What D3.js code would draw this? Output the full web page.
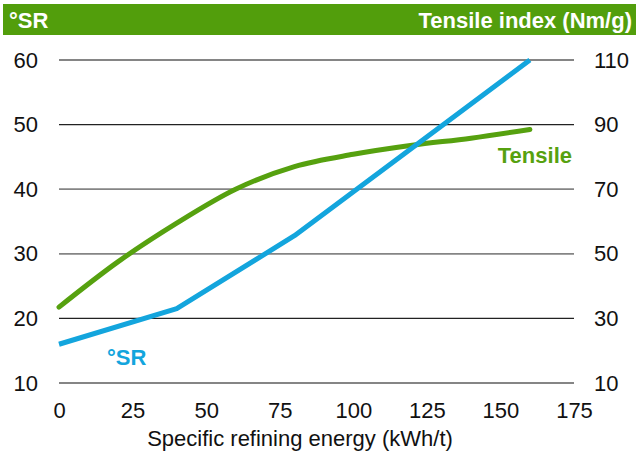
<!DOCTYPE html>
<html><head><meta charset="utf-8">
<script src="https://cdn.jsdelivr.net/npm/d3@7"></script>
<style>body{margin:0;background:#fff;font-family:"Liberation Sans",Arial,sans-serif}</style>
</head><body><svg id="c" width="638" height="452"></svg>
<script>
const energy = [0, 40, 80, 160];
const srValues = [16, 21.5, 32.8, 60];
const tensileEnergy = [0, 20, 40, 60, 80, 100, 120, 140, 160];
const tensileValues = [33.5, 47.5, 59.5, 70, 77, 80.8, 83.6, 85.8, 88.5];
const xTicks = [0, 25, 50, 75, 100, 125, 150, 175];
const leftTicks = [10, 20, 30, 40, 50, 60];
const rightTicks = [10, 30, 50, 70, 90, 110];

const svg = d3.select("#c");
const green = "#56a10f", blue = "#13a5dd";
const FONT = "Liberation Sans, Arial, sans-serif";
const x = d3.scaleLinear().domain([0, 175]).range([59, 574]);
const yL = d3.scaleLinear().domain([10, 60]).range([383, 60]);
const yR = d3.scaleLinear().domain([10, 110]).range([383, 60]);

// header
svg.append("rect").attr("x", 3).attr("y", 4).attr("width", 633).attr("height", 31).attr("fill", "#529e0c");
svg.append("text").attr("x", 9).attr("y", 28).attr("fill", "#fff").attr("font-weight", "bold").attr("font-size", 22).text("°SR");
svg.append("text").attr("x", 632).attr("y", 28).attr("text-anchor", "end").attr("fill", "#fff").attr("font-weight", "bold").attr("font-size", 22).text("Tensile index (Nm/g)");

// grid
const darkLines = [50, 20];
svg.append("g").selectAll("line").data(leftTicks).join("line")
  .attr("x1", x(0)).attr("x2", x(175)).attr("y1", d => yL(d)).attr("y2", d => yL(d))
  .attr("stroke", d => darkLines.includes(d) ? "#222" : "#858585")
  .attr("stroke-width", d => darkLines.includes(d) ? 1.2 : 1.8);

// left axis
const gl = svg.append("g").attr("transform", `translate(${x(0)},0)`)
  .call(d3.axisLeft(yL).tickValues(leftTicks).tickSize(0).tickPadding(21));
gl.select(".domain").remove();
gl.selectAll("text").attr("font-size", 22).attr("fill", "#111").attr("font-family", FONT);

// right axis
const gr = svg.append("g").attr("transform", `translate(${x(175)},0)`)
  .call(d3.axisRight(yR).tickValues(rightTicks).tickSize(0).tickPadding(20));
gr.select(".domain").remove();
gr.selectAll("text").attr("font-size", 22).attr("fill", "#111").attr("font-family", FONT);

// bottom axis
const gb = svg.append("g").attr("transform", `translate(0,${yL(10)})`)
  .call(d3.axisBottom(x).tickValues(xTicks).tickSize(0).tickPadding(19));
gb.select(".domain").remove();
gb.selectAll("text").attr("font-size", 22).attr("fill", "#111").attr("font-family", FONT);

svg.append("text").attr("x", 300).attr("y", 446).attr("text-anchor", "middle")
  .attr("font-size", 22).attr("fill", "#111").text("Specific refining energy (kWh/t)");

// lines
const tensileLine = d3.line().x((d, i) => x(tensileEnergy[i])).y(d => yR(d)).curve(d3.curveMonotoneX);
svg.append("path").datum(tensileValues).attr("d", tensileLine).attr("fill", "none")
  .attr("stroke", green).attr("stroke-width", 5).attr("stroke-linecap", "round");
const srLine = d3.line().x((d, i) => x(energy[i])).y(d => yL(d));
svg.append("path").datum(srValues).attr("d", srLine).attr("fill", "none")
  .attr("stroke", blue).attr("stroke-width", 5).attr("stroke-linejoin", "round");

svg.append("text").attr("x", 572).attr("y", 163).attr("text-anchor", "end").attr("fill", green)
  .attr("font-weight", "bold").attr("font-size", 22).text("Tensile");
svg.append("text").attr("x", 107).attr("y", 365).attr("fill", blue)
  .attr("font-weight", "bold").attr("font-size", 22).text("°SR");
</script></body></html>
